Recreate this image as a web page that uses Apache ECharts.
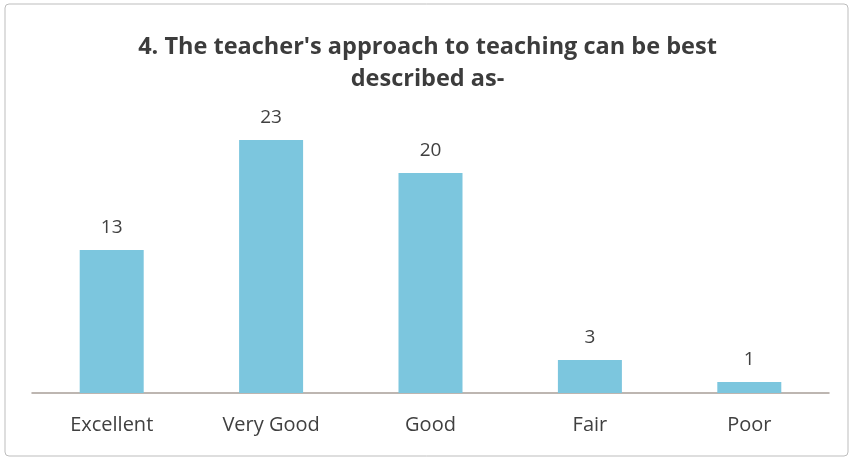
<!DOCTYPE html>
<html>
<head>
<meta charset="utf-8">
<script src="https://cdn.jsdelivr.net/npm/echarts@6/dist/echarts.min.js"></script>
<style>
  html, body { margin: 0; padding: 0; background: #fff; }
  #main { width: 855px; height: 461px; }
</style>
</head>
<body>
<div id="main"></div>
<script>
// data
const categories = ['Excellent', 'Very Good', 'Good', 'Fair', 'Poor']
const counts = [13, 23, 20, 3, 1]
const titleText = "4. The teacher's approach to teaching can be best\ndescribed as-"

const myChart = echarts.init(document.getElementById('main'))
const font = '"Open Sans", "Noto Sans", sans-serif'

const option = {
  animation: false,
  graphic: [
    {
      type: 'rect',
      shape: { x: 5, y: 4, width: 843, height: 452, r: 4 },
      style: { fill: 'none', stroke: '#bdbdbd', lineWidth: 1 }
    }
  ],
  title: {
    text: titleText,
    left: 'center',
    top: 26,
    textStyle: {
      fontFamily: font,
      fontSize: 23.5,
      fontWeight: 'bold',
      color: '#3c3c3c',
      lineHeight: 32
    }
  },
  grid: { left: 32, right: 26, top: 118, bottom: 68 },
  xAxis: {
    type: 'category',
    data: categories,
    axisLine: { lineStyle: { color: '#a89f98', width: 1.5 } },
    axisTick: { show: false },
    axisLabel: {
      fontFamily: font,
      fontSize: 20,
      color: '#404040',
      margin: 22
    }
  },
  yAxis: {
    type: 'value',
    min: 0,
    max: 25,
    show: false,
    splitLine: { show: false }
  },
  series: [
    {
      type: 'bar',
      data: counts,
      barWidth: 64,
      itemStyle: { color: '#7cc6de' },
      label: {
        show: true,
        position: 'top',
        distance: 13,
        fontFamily: font,
        fontSize: 19,
        color: '#404040'
      }
    }
  ]
}

myChart.setOption(option)
</script>
</body>
</html>
